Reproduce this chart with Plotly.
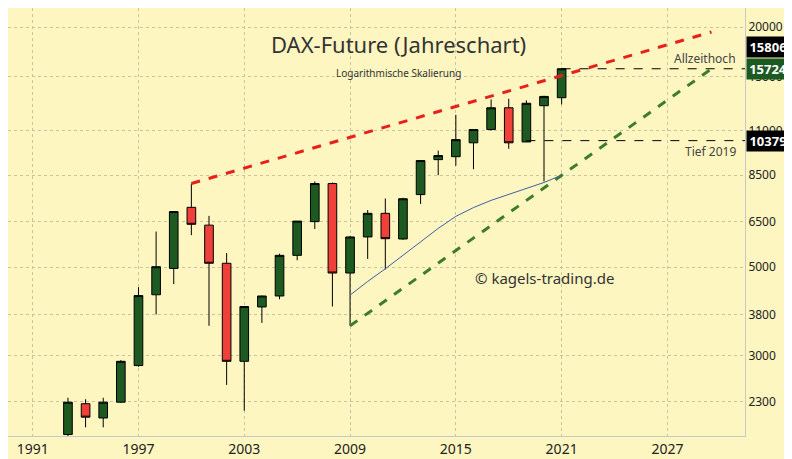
import plotly.graph_objects as go

years = list(range(1993, 2022))
opens = [1900, 2270, 2090, 2290, 2830, 4260, 4960, 7060, 6370, 5110, 2900, 3970, 4230, 5350,
         6500, 8100, 4830, 5950, 6820, 5880, 7600, 9300, 9460, 10250, 11070, 12550, 10300, 12700, 13300]
highs = [2350, 2330, 2350, 2920, 4450, 6140, 6890, 8100, 6720, 5420, 3980, 4240, 5400, 6520,
         8200, 8150, 5990, 6950, 7430, 7460, 9280, 9800, 12050, 11100, 13170, 13220, 13100, 13450, 15806]
lows = [1850, 1980, 1980, 2280, 2810, 3800, 4530, 6010, 3560, 2530, 2180, 3620, 4150, 5200,
        6230, 3980, 3560, 5240, 4930, 5850, 7200, 8500, 8980, 8800, 11000, 9900, 10379, 8200, 12800]
closes = [2290, 2100, 2290, 2900, 4240, 5010, 6890, 6400, 5110, 2900, 3980, 4230, 5350, 6520,
          8100, 4830, 5950, 6820, 5890, 7420, 9250, 9520, 10440, 11070, 12550, 10250, 12880, 13400, 15724]

ma_years = list(range(2009, 2022))
ma_vals = [4250, 4600, 4950, 5350, 5800, 6250, 6700, 7050, 7350, 7600, 7850, 8150, 8500]

res_x = [2000, 2029.5]
res_y = [8100, 19450]
sup_x = [2009, 2029.5]
sup_y = [3560, 15724]

y_ticks = [2300, 3000, 3800, 5000, 6500, 8500, 11000, 15000, 20000]
x_ticks = [1991, 1997, 2003, 2009, 2015, 2021, 2027]

fig = go.Figure()
fig.add_trace(go.Scatter(x=res_x, y=res_y, mode='lines', line=dict(color='#e8201c', width=3, dash='dash')))
fig.add_trace(go.Scatter(x=sup_x, y=sup_y, mode='lines', line=dict(color='#3e7d28', width=3, dash='dash')))
fig.add_trace(go.Scatter(x=ma_years, y=ma_vals, mode='lines', line=dict(color='#3d5fa8', width=1)))
fig.add_trace(go.Scatter(x=[2021, 2032], y=[15724, 15724], mode='lines', line=dict(color='black', width=1, dash='dash')))
fig.add_trace(go.Scatter(x=[2019, 2032], y=[10379, 10379], mode='lines', line=dict(color='black', width=1, dash='dash')))
fig.add_trace(go.Candlestick(x=years, open=opens, high=highs, low=lows, close=closes, whiskerwidth=0,
                             increasing=dict(fillcolor='#1d5a22', line=dict(color='black', width=1)),
                             decreasing=dict(fillcolor='#f0403a', line=dict(color='black', width=1))))

fig.add_annotation(x=0.53, y=0.955, xref='paper', yref='paper', text='DAX-Future (Jahreschart)', showarrow=False,
                   font=dict(size=22, color='#333'))
fig.add_annotation(x=0.53, y=0.87, xref='paper', yref='paper', text='Logarithmische Skalierung', showarrow=False,
                   font=dict(size=10, color='#333'))
fig.add_annotation(x=2020, y=3.672, text='© kagels-trading.de', showarrow=False, font=dict(size=15, color='#333'))
fig.add_annotation(x=2031, y=4.222, text='Allzeithoch', showarrow=False, xanchor='right', font=dict(size=12, color='#444'))
fig.add_annotation(x=2031, y=3.99, text='Tief 2019', showarrow=False, xanchor='right', font=dict(size=12, color='#444'))
for val, ypos, col in [(15806, 4.25, 'black'), (15724, 4.196, '#1d5a22'), (10379, 4.016, 'black')]:
    fig.add_annotation(x=1, xref='paper', y=ypos, xanchor='left', xshift=1, text='<b>%d</b>' % val, showarrow=False,
                       bgcolor=col, font=dict(size=13, color='white'), width=40, borderpad=1)

fig.update_layout(width=792, height=459, paper_bgcolor='#fdf6c0', plot_bgcolor='#fdf6c0', showlegend=False,
                  margin=dict(l=0, r=55, t=0, b=31), font=dict(family='Noto Sans', color='#222'))
fig.update_xaxes(range=[1989.6, 2031.4], tickvals=x_ticks, showgrid=True, gridcolor='#c9c3a0', griddash='dot',
                 rangeslider_visible=False, showline=True, linecolor='#c8c8c8', ticks='', tickfont=dict(size=14),
                 zeroline=False)
fig.update_yaxes(type='log', range=[3.275, 4.349], tickvals=y_ticks, ticktext=[str(v) for v in y_ticks],
                 side='right', showgrid=True, gridcolor='#c9c3a0', griddash='dot', showline=True,
                 linecolor='#c8c8c8', ticks='', tickfont=dict(size=12))
fig.write_html("out.html")
